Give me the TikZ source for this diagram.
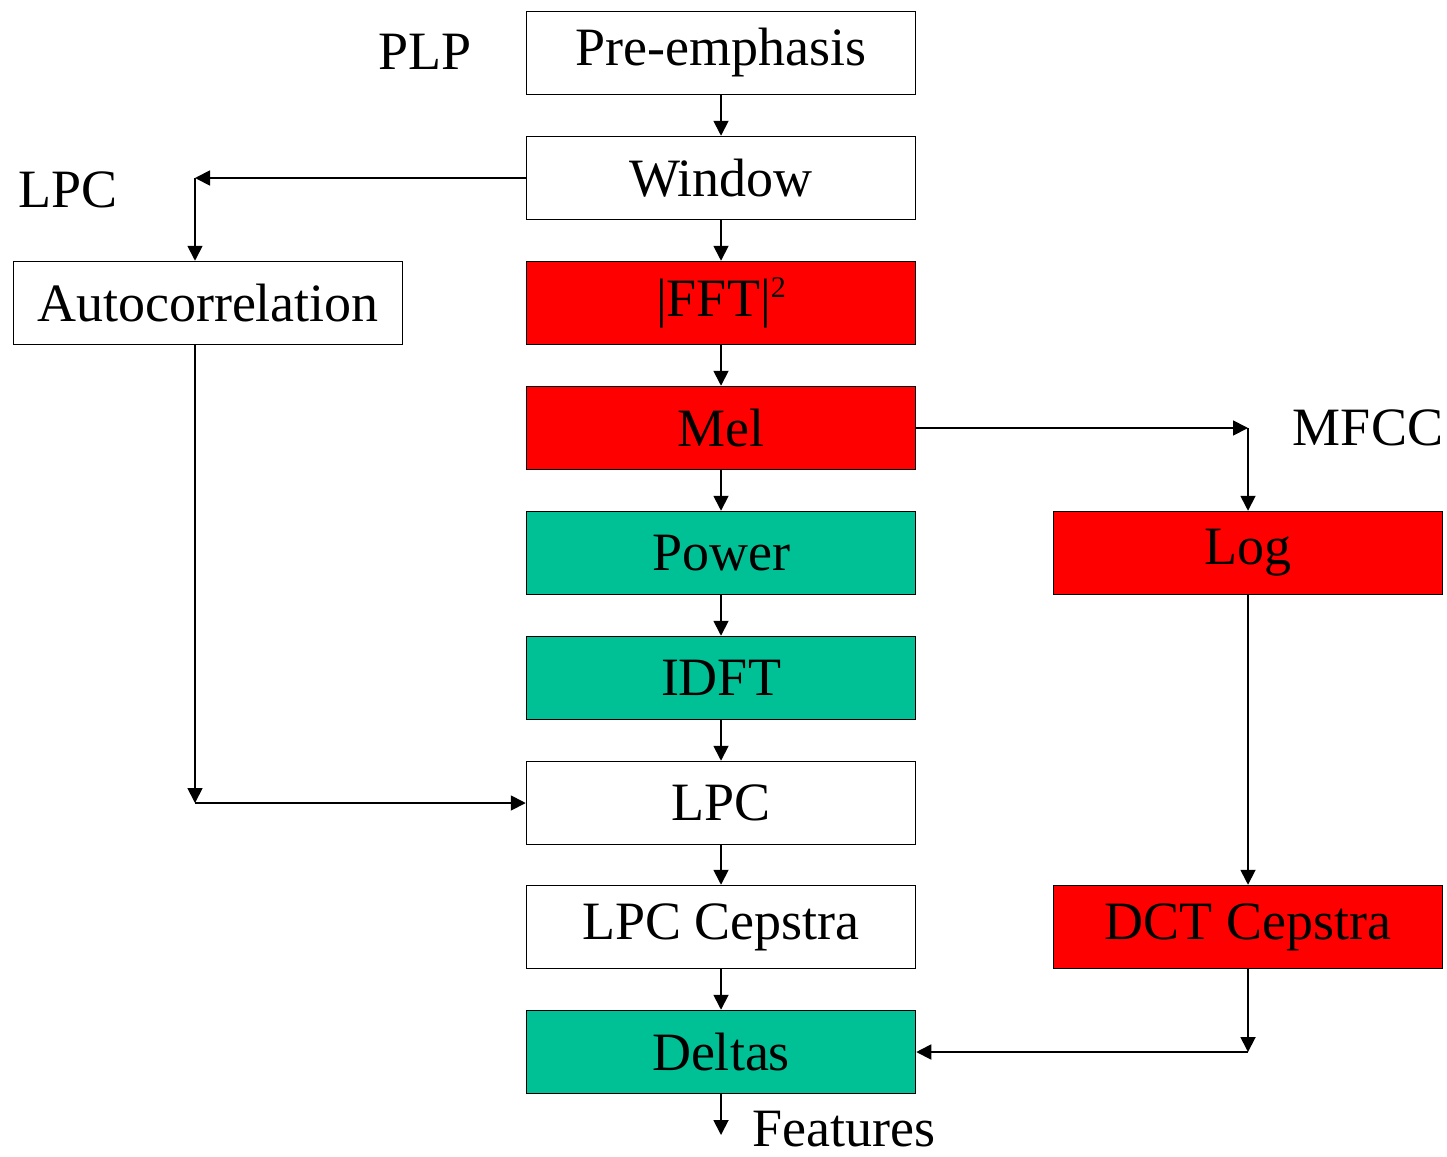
\documentclass[tikz,border=0pt]{standalone}
\usepackage{fontspec}
\setmainfont{Liberation Serif}
\usetikzlibrary{arrows.meta}
\definecolor{boxred}{RGB}{255,0,0}
\definecolor{boxteal}{RGB}{0,192,150}
\begin{document}
\begin{tikzpicture}[x=1pt,y=-1pt,
  box/.style={draw=black,line width=1.5pt,minimum width=389pt,minimum height=83pt,inner sep=0pt,
    font=\fontsize{54}{60}\selectfont},
  lab/.style={font=\fontsize{54}{60}\selectfont,inner sep=0pt},
  arr/.style={line width=1.8pt,-{Triangle[length=15pt,width=15pt]}}]
\useasboundingbox (0,0) rectangle (1447,1156);
\node[box,fill=white] (pre) at (721,53) {Pre-emphasis};
\node[box,fill=white] (win) at (721,178) {Window};
\node[box,fill=boxred] (fft) at (721,303) {|FFT|\raisebox{0.35em}{\fontsize{30}{30}\selectfont 2}};
\node[box,fill=boxred] (mel) at (721,428) {Mel};
\node[box,fill=boxteal] (pow) at (721,553) {Power};
\node[box,fill=boxteal] (idft) at (721,678) {IDFT};
\node[box,fill=white] (lpc) at (721,803) {LPC};
\node[box,fill=white] (lpcc) at (721,927) {LPC Cepstra};
\node[box,fill=boxteal] (del) at (721,1052) {Deltas};
\node[box,fill=white] (auto) at (208,303) {Autocorrelation};
\node[box,fill=boxred] (log) at (1248,553) {Log};
\node[box,fill=boxred] (dct) at (1248,927) {DCT Cepstra};
\node[lab] (plp) at (425,52) {PLP};
\node[lab] (lpclab) at (68,190) {LPC};
\node[lab] (mfcc) at (1368,428) {MFCC};
\node[lab,anchor=base west] (feat) at (752,1146) {Features};
\coordinate (c1) at (195,178);
\coordinate (c2) at (1248,428);
\coordinate (c3) at (195,803);
\coordinate (c4) at (1248,1052);
\coordinate (c5) at (721,1135);
\draw[arr] (pre) -- (win);
\draw[arr] (win) -- (fft);
\draw[arr] (fft) -- (mel);
\draw[arr] (mel) -- (pow);
\draw[arr] (pow) -- (idft);
\draw[arr] (idft) -- (lpc);
\draw[arr] (lpc) -- (lpcc);
\draw[arr] (lpcc) -- (del);
\draw[arr] (del) -- (c5);
\draw[arr] (win.west) -- (c1);
\draw[arr] (c1) -- (c1 |- auto.north);
\draw[arr] (c3 |- auto.south) -- (c3);
\draw[arr] (c3) -- (lpc.west);
\draw[arr] (mel.east) -- (c2);
\draw[arr] (c2) -- (log.north);
\draw[arr] (log) -- (dct);
\draw[arr] (dct.south) -- (c4);
\draw[arr] (c4) -- (del.east);
\end{tikzpicture}
\end{document}
